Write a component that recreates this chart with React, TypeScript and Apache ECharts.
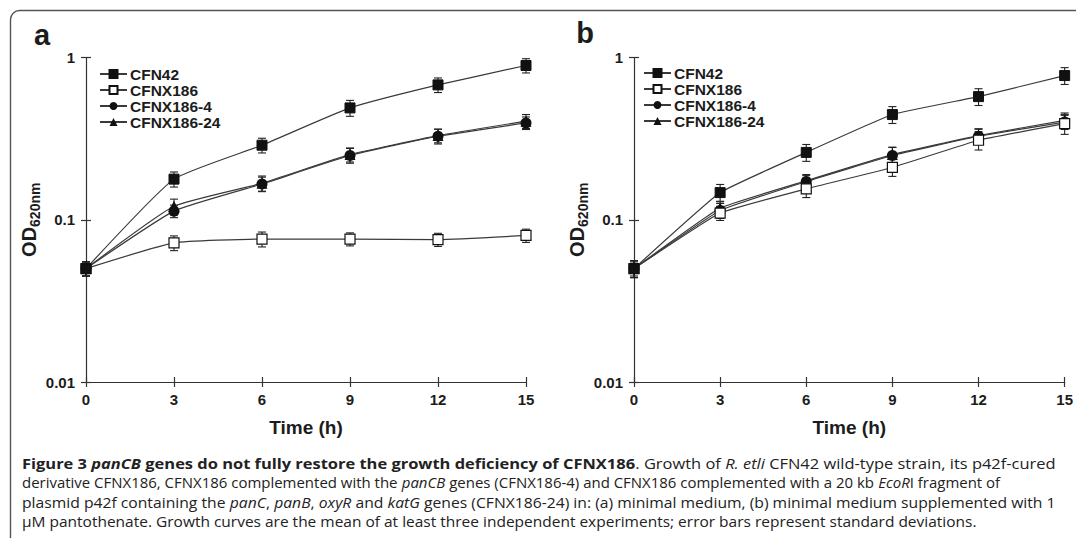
import React, { useEffect, useRef } from 'react';
import * as echarts from 'echarts';

// ---------- DATA ----------
const times = [0, 3, 6, 9, 12, 15];
const strainNames = ['CFN42', 'CFNX186', 'CFNX186-4', 'CFNX186-24'];
const yTickValues = [0.01, 0.1, 1];

// Panel a: minimal medium
const aCFN42 = [0.05, 0.178, 0.288, 0.489, 0.678, 0.893];
const aCFNX186 = [0.05, 0.072, 0.076, 0.076, 0.0755, 0.08];
const aCFNX186_4 = [0.05, 0.113, 0.166, 0.249, 0.327, 0.395];
const aCFNX186_24 = [0.05, 0.121, 0.168, 0.252, 0.33, 0.405];
const aCFN42Sd = [0.005, 0.019, 0.03, 0.055, 0.07, 0.09];
const aCFNX186Sd = [0.005, 0.0075, 0.008, 0.007, 0.007, 0.0075];
const aCFNX186_4Sd = [0.005, 0.01, 0.017, 0.026, 0.034, 0.035];
const aCFNX186_24Sd = [0.005, 0.013, 0.018, 0.025, 0.032, 0.04];

// Panel b: minimal medium + 1 uM pantothenate
const bCFN42 = [0.05, 0.147, 0.26, 0.445, 0.574, 0.774];
const bCFNX186 = [0.05, 0.11, 0.155, 0.21, 0.309, 0.391];
const bCFNX186_4 = [0.05, 0.114, 0.172, 0.249, 0.327, 0.4];
const bCFNX186_24 = [0.05, 0.118, 0.174, 0.252, 0.33, 0.41];
const bCFN42Sd = [0.006, 0.018, 0.031, 0.053, 0.068, 0.092];
const bCFNX186Sd = [0.005, 0.011, 0.018, 0.025, 0.04, 0.055];
const bCFNX186_4Sd = [0.006, 0.012, 0.015, 0.03, 0.034, 0.04];
const bCFNX186_24Sd = [0.006, 0.012, 0.016, 0.028, 0.034, 0.045];

const panelA = [aCFN42, aCFNX186, aCFNX186_4, aCFNX186_24];
const panelASd = [aCFN42Sd, aCFNX186Sd, aCFNX186_4Sd, aCFNX186_24Sd];
const panelB = [bCFN42, bCFNX186, bCFNX186_4, bCFNX186_24];
const panelBSd = [bCFN42Sd, bCFNX186Sd, bCFNX186_4Sd, bCFNX186_24Sd];

const captionLines: [string, string][][] = [
  [['b', 'Figure 3 '], ['bi', 'panCB'], ['b', ' genes do not fully restore the growth deficiency of CFNX186'], ['r', '. Growth of '], ['i', 'R. etli'], ['r', ' CFN42 wild-type strain, its p42f-cured']],
  [['r', 'derivative CFNX186, CFNX186 complemented with the '], ['i', 'panCB'], ['r', ' genes (CFNX186-4) and CFNX186 complemented with a 20 kb '], ['i', 'EcoR'], ['r', 'I fragment of']],
  [['r', 'plasmid p42f containing the '], ['i', 'panC'], ['r', ', '], ['i', 'panB'], ['r', ', '], ['i', 'oxyR'], ['r', ' and '], ['i', 'katG'], ['r', ' genes (CFNX186-24) in: (a) minimal medium, (b) minimal medium supplemented with 1']],
  [['r', 'μM pantothenate. Growth curves are the mean of at least three independent experiments; error bars represent standard deviations.']],
];

// ---------- STYLE ----------
const FONT = '"Liberation Sans", Arial, Helvetica, sans-serif';
const CAP_FONT = '"Open Sans", sans-serif';
const CAP_SIZE = 14;
const INK = '#1c1c1c';
const AXIS = '#333';

const markerStyle: Record<string, any> = {
  'CFN42': { symbol: 'rect', symbolSize: 10, itemStyle: { color: '#111', borderColor: '#111', borderWidth: 1 } },
  'CFNX186': { symbol: 'rect', symbolSize: 10, itemStyle: { color: '#fff', borderColor: '#111', borderWidth: 1.2 } },
  'CFNX186-4': { symbol: 'circle', symbolSize: 11, itemStyle: { color: '#111', borderColor: '#111', borderWidth: 0 } },
  'CFNX186-24': { symbol: 'triangle', symbolSize: 11, itemStyle: { color: '#111', borderColor: '#111', borderWidth: 0 } },
};
const zOrder: Record<string, number> = { 'CFN42': 6, 'CFNX186': 5, 'CFNX186-4': 4, 'CFNX186-24': 3 };

const grids = [
  { left: 86, top: 57.5, width: 440, height: 324.5 },
  { left: 634, top: 57.5, width: 432, height: 324.5 },
];

function fmtY(v: number) {
  if (v >= 1) return '1';
  return String(+v.toPrecision(2));
}

function xAxesFor(g: number) {
  const tickStyle = { color: AXIS, width: 1.2 };
  return [
    {
      type: 'value', gridIndex: g, position: 'bottom', min: 0, max: 15, interval: 3,
      axisLine: { show: true, onZero: false, lineStyle: { color: AXIS, width: 1.2 } },
      axisTick: { show: true, inside: false, length: 5, lineStyle: tickStyle },
      axisLabel: { margin: 10, fontFamily: FONT, fontWeight: 'bold', fontSize: 15, color: INK },
      splitLine: { show: false },
      name: 'Time (h)', nameLocation: 'middle', nameGap: 36,
      nameTextStyle: { fontFamily: FONT, fontWeight: 'bold', fontSize: 19, color: INK },
    },
    {
      type: 'value', gridIndex: g, position: 'bottom', min: 0, max: 15, interval: 3,
      axisLine: { show: false, onZero: false },
      axisTick: { show: true, inside: true, length: 5, lineStyle: tickStyle },
      axisLabel: { show: false }, splitLine: { show: false },
    },
  ];
}

function yAxesFor(g: number) {
  const tickStyle = { color: AXIS, width: 1.2 };
  return [
    {
      type: 'log', logBase: 10, gridIndex: g, position: 'left', min: 0.01, max: 1,
      axisLine: { show: true, onZero: false, lineStyle: { color: AXIS, width: 1.2 } },
      axisTick: { show: true, inside: false, length: 5, lineStyle: tickStyle },
      axisLabel: { margin: 11, fontFamily: FONT, fontWeight: 'bold', fontSize: 15, color: INK, formatter: fmtY },
      splitLine: { show: false }, minorTick: { show: false },
      name: '{a|OD}{b|620nm}', nameLocation: 'middle', nameGap: 42, nameRotate: 90,
      nameTextStyle: {
        rich: {
          a: { fontFamily: FONT, fontWeight: 'bold', fontSize: 20, color: INK, lineHeight: 22, verticalAlign: 'bottom' },
          b: { fontFamily: FONT, fontWeight: 'bold', fontSize: 14, color: INK, lineHeight: 22, verticalAlign: 'bottom', padding: [0, 0, -3, 0] },
        },
      },
    },
    {
      type: 'log', logBase: 10, gridIndex: g, position: 'left', min: 0.01, max: 1,
      axisLine: { show: false, onZero: false },
      axisTick: { show: true, inside: true, length: 5, lineStyle: tickStyle },
      axisLabel: { show: false }, splitLine: { show: false }, minorTick: { show: false },
    },
  ];
}

function panelSeries(g: number, vals: number[][], sds: number[][], smooth: number) {
  const axisIdx = g * 2;
  const out: any[] = [];
  strainNames.forEach((name, k) => {
    out.push({
      type: 'custom', name: name + ' SD', xAxisIndex: axisIdx, yAxisIndex: axisIdx, silent: true, z: 1,
      data: times.map((t, i) => [t, vals[k][i], sds[k][i]]),
      encode: { x: 0, y: 1 },
      renderItem: (params: any, api: any) => {
        const x = api.value(0), y = api.value(1), s = api.value(2);
        const top = api.coord([x, y + s]);
        const bot = api.coord([x, Math.max(y - s, 0.0101)]);
        const hw = 4;
        const st = { stroke: '#222', lineWidth: 1.1 };
        return {
          type: 'group',
          children: [
            { type: 'line', shape: { x1: top[0], y1: top[1], x2: bot[0], y2: bot[1] }, style: st },
            { type: 'line', shape: { x1: top[0] - hw, y1: top[1], x2: top[0] + hw, y2: top[1] }, style: st },
            { type: 'line', shape: { x1: bot[0] - hw, y1: bot[1], x2: bot[0] + hw, y2: bot[1] }, style: st },
          ],
        };
      },
    });
  });
  strainNames.forEach((name, k) => {
    const m = markerStyle[name];
    out.push({
      type: 'line', name, xAxisIndex: axisIdx, yAxisIndex: axisIdx,
      data: times.map((t, i) => [t, vals[k][i]]),
      symbol: m.symbol, symbolSize: m.symbolSize, showSymbol: true, showAllSymbol: true,
      itemStyle: m.itemStyle, smooth,
      lineStyle: { color: '#3a3a3a', width: 1.2 },
      z: zOrder[name], silent: true,
    });
  });
  return out;
}

function richFor(size: number) {
  const base = { fontFamily: CAP_FONT, fontSize: size, fill: '#222', color: '#222' };
  return {
    r: { ...base, fontWeight: 'normal', fontStyle: 'normal' },
    i: { ...base, fontWeight: 'normal', fontStyle: 'italic' },
    b: { ...base, fontWeight: 'bold', fontStyle: 'normal' },
    bi: { ...base, fontWeight: 'bold', fontStyle: 'italic' },
  };
}

function measureLine(segs: [string, string][], size: number) {
  const c = document.createElement('canvas').getContext('2d');
  if (!c) return 1;
  let w = 0;
  for (const [k, t] of segs) {
    const it = k === 'i' || k === 'bi' ? 'italic ' : '';
    const bd = k === 'b' || k === 'bi' ? 'bold ' : '';
    c.font = `${it}${bd}${size}px ${CAP_FONT}`;
    w += c.measureText(t).width;
  }
  return w;
}

const captionRight = [1056, 1000, 1056, 978];
const captionY = [464, 483, 502, 521];
const captionLeft = 22;

function buildOption() {
  const legendBase = {
    data: strainNames, orient: 'vertical', padding: 0, itemGap: 0,
    itemWidth: 27, itemHeight: 10, selectedMode: false,
    textStyle: { fontFamily: FONT, fontWeight: 'bold', fontSize: 15.5, color: INK, lineHeight: 15.5, padding: [0, 0, 0, -2] },
  };
  const graphic: any[] = [
    { type: 'rect', silent: true, shape: { x: 10.5, y: 10.5, width: 1200, height: 700, r: 9 }, style: { fill: 'none', stroke: '#555', lineWidth: 1.4 } },
    { type: 'text', x: 42, y: 35, style: { text: 'a', fontFamily: FONT, fontWeight: 'bold', fontSize: 29, fill: INK, align: 'center', verticalAlign: 'middle' } },
    { type: 'text', x: 585, y: 33, style: { text: 'b', fontFamily: FONT, fontWeight: 'bold', fontSize: 29, fill: INK, align: 'center', verticalAlign: 'middle' } },
  ];
  const rich = richFor(CAP_SIZE);
  captionLines.forEach((segs, li) => {
    const natural = measureLine(segs, CAP_SIZE);
    const target = captionRight[li] - captionLeft;
    const sx = natural > 0 ? target / natural : 1;
    graphic.push({
      type: 'text', x: captionLeft, y: captionY[li], scaleX: sx, silent: true,
      style: {
        text: segs.map(([k, t]) => `{${k}|${t}}`).join(''),
        rich, fontFamily: CAP_FONT, fontSize: CAP_SIZE, fill: '#222',
        align: 'left', verticalAlign: 'middle',
      },
    });
  });

  return {
    animation: false,
    backgroundColor: '#fff',
    grid: grids,
    xAxis: [...xAxesFor(0), ...xAxesFor(1)],
    yAxis: [...yAxesFor(0), ...yAxesFor(1)],
    legend: [
      { ...legendBase, left: 99, top: 66 },
      { ...legendBase, left: 643, top: 65 },
    ],
    series: [
      ...panelSeries(0, panelA, panelASd, 0.15),
      ...panelSeries(1, panelB, panelBSd, 0.1),
    ],
    graphic,
  };
}

export default function App() {
  const ref = useRef<HTMLDivElement>(null);
  useEffect(() => {
    if (!ref.current) return;
    const chart = echarts.init(ref.current, null, { renderer: 'svg' });
    chart.setOption(buildOption() as any);
    return () => chart.dispose();
  }, []);
  return (
    <div
      ref={ref}
      style={{ position: 'absolute', left: 0, top: 0, width: 1076, height: 538, background: '#fff' }}
    />
  );
}
